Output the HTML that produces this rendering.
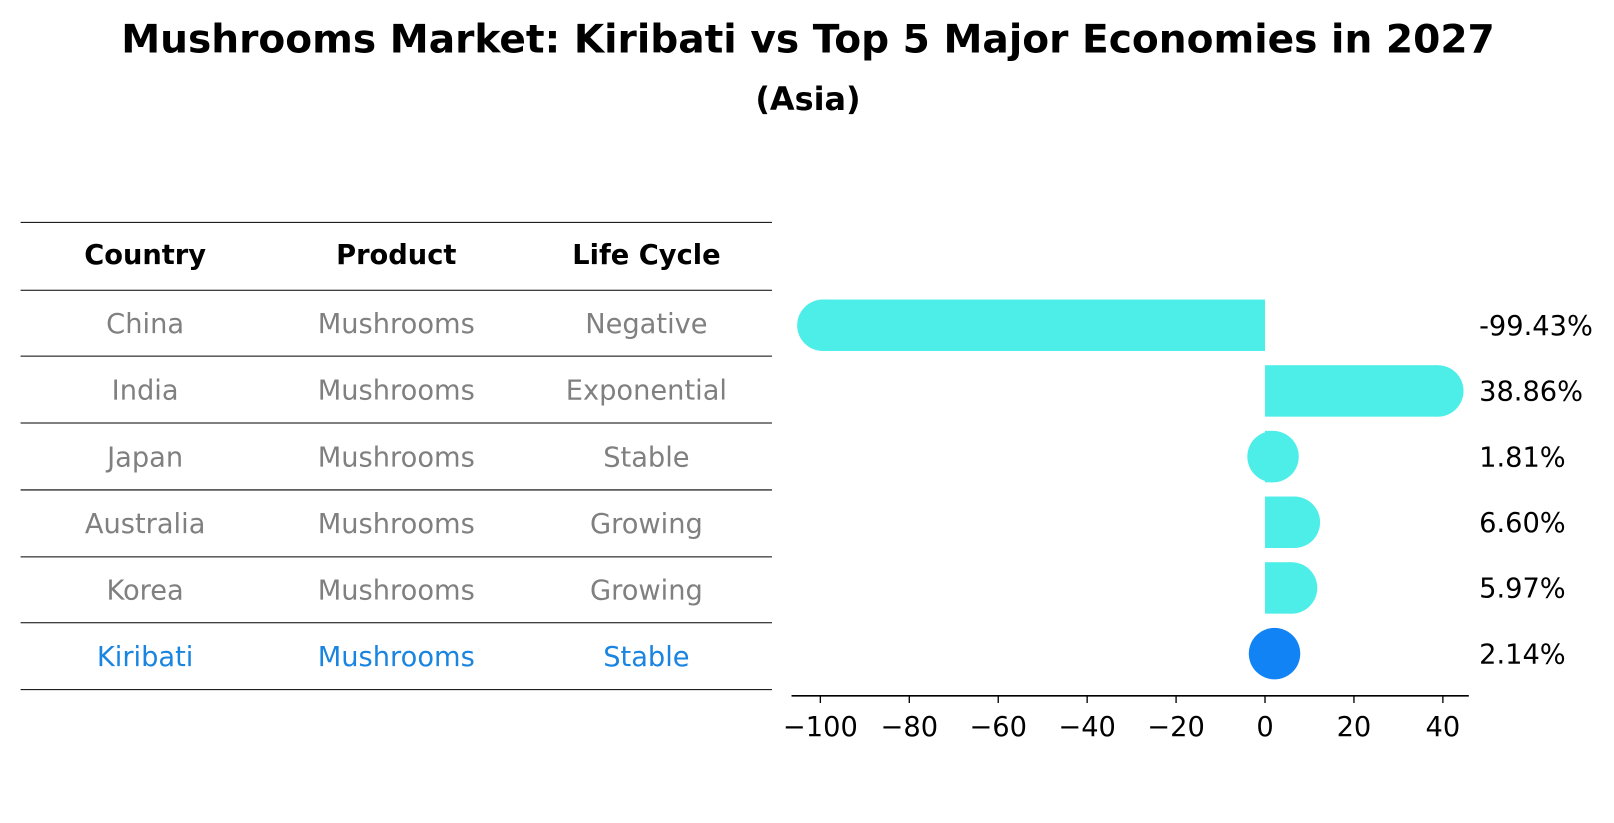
<!DOCTYPE html>
<html><head><meta charset="utf-8"><style>
body{margin:0;background:#fff;font-family:"Liberation Sans","DejaVu Sans",sans-serif}
#root{position:relative;width:1614px;height:823px;overflow:hidden}
</style></head><body>
<div id="root">
<svg id="svg" width="1614" height="823" xmlns="http://www.w3.org/2000/svg">
<g transform="scale(1.0293)">
<text x="785" y="51" text-anchor="middle" font-size="38" font-weight="bold" font-family="DejaVu Sans, Liberation Sans, sans-serif">Mushrooms Market: Kiribati vs Top 5 Major Economies in 2027</text>
<text x="785" y="107" text-anchor="middle" font-size="31" font-weight="bold" font-family="DejaVu Sans, Liberation Sans, sans-serif">(Asia)</text>
<g id="table"></g>
<g id="bars"></g>
</g>
</svg>
</div>
<script>
const countries=["China","India","Japan","Australia","Korea","Kiribati"];
const products=["Mushrooms","Mushrooms","Mushrooms","Mushrooms","Mushrooms","Mushrooms"];
const lifeCycles=["Negative","Exponential","Stable","Growing","Growing","Stable"];
const values=[-99.43,38.86,1.81,6.60,5.97,2.14];
const valueLabels=["-99.43%","38.86%","1.81%","6.60%","5.97%","2.14%"];
const xTicks=[-100,-80,-60,-40,-20,0,20,40];
const headers=["Country","Product","Life Cycle"];

const NS="http://www.w3.org/2000/svg";
function mk(tag,attrs,parent){const e=document.createElementNS(NS,tag);for(const k in attrs)e.setAttribute(k,attrs[k]);parent.appendChild(e);return e;}
const FF="DejaVu Sans, Liberation Sans, sans-serif";
const FS=26.5;
const table=document.getElementById('table');
const bars=document.getElementById('bars');
const colX=[141,385,628];
const lineYs=[216,282,346,411,476,541,605,670];
lineYs.forEach((y,i)=>{
  const l=mk('line',{x1:20,x2:750,y1:y,y2:y,stroke:'#000','stroke-width':1},table);
  
  
});
headers.forEach((h,i)=>{
  const t=mk('text',{x:colX[i],y:247+9.5,'text-anchor':'middle','font-size':FS,'font-weight':'bold','font-family':FF},table);
  t.textContent=h;
  
  
});
function rowY(i){return (lineYs[i+1]+lineYs[i+2])/2;}
countries.forEach((c,i)=>{
  const col=i===countries.length-1?'#1a85e0':'#808080';
  [c,products[i],lifeCycles[i]].forEach((v,j)=>{
    const t=mk('text',{x:colX[j],y:rowY(i)+9.5,'text-anchor':'middle','font-size':FS,fill:col,'font-family':FF},table);
    t.textContent=v;
    
    
  });
});
const x0=1229, sc=4.32;
function xs(v){return x0+v*sc;}
const barY=[316,380,443,508,572,635];
function by(i){return barY[0]+i*(barY[5]-barY[0])/5;}
const ax=mk('line',{x1:769,x2:1427,y1:676,y2:676,stroke:'#000','stroke-width':1.5},bars);


xTicks.forEach(t=>{
  const tk=mk('line',{x1:xs(t),x2:xs(t),y1:676,y2:683,stroke:'#000','stroke-width':1.3},bars);
  
  
  const lb=mk('text',{x:xs(t),y:715,'text-anchor':'middle','font-size':FS,'font-family':FF},bars);
  lb.textContent=(t<0?'\u2212'+(-t):String(t));
  
  
});
const R=25;
values.forEach((v,i)=>{
  const col=i===values.length-1?'#1283f5':'#4eeee8';
  const y=by(i);
  const g=mk('g',{},bars);
  
  
  const a=Math.min(xs(0),xs(v)), b=Math.max(xs(0),xs(v));
  if(i!==values.length-1) mk('rect',{x:a,y:y-R,width:b-a,height:2*R,fill:col},g);
  mk('circle',{cx:xs(v),cy:y,r:R,fill:col},g);
  const lb=mk('text',{x:1437,y:y+9.5,'font-size':FS,'font-family':FF},bars);
  lb.textContent=valueLabels[i];
  
  
});
</script>
</body></html>
